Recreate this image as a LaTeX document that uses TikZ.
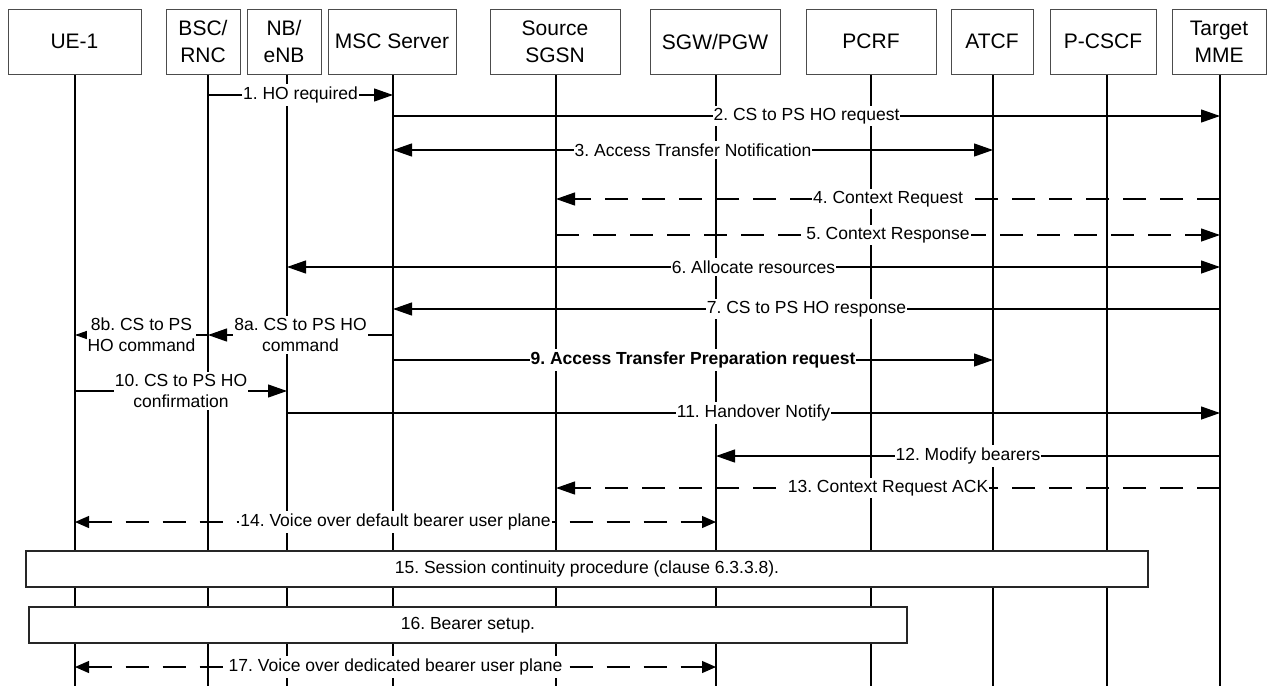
\documentclass[tikz,border=0pt]{standalone}
\usepackage{fontspec}
\setmainfont{Liberation Sans}
\frenchspacing
\usetikzlibrary{arrows.meta}

\begin{document}
\begin{tikzpicture}[x=1pt,y=-1pt,>={Triangle[length=19pt,width=13pt]},
  hdr/.style={draw=\BordColor,line width=1pt,fill=white,align=center,inner sep=0pt,minimum height=65pt,font=\HdrFont},
  vie/.style={line width=1.2pt},
  msg/.style={line width=1.2pt,->},
  msgb/.style={line width=1.2pt,<->},
  msgd/.style={msg,dash pattern=on 23pt off 14pt},
  voix/.style={line width=1.2pt,dash pattern=on 23pt off 14pt,{Triangle[length=14pt,width=12pt]}-{Triangle[length=14pt,width=12pt]}},
  lbl/.style={fill=white,inner xsep=1pt,inner ysep=2.5pt,align=center,font=\LblFont},
  etape/.style={draw=black!85,line width=1.2pt,fill=white,inner sep=0pt,minimum height=36pt,font=\LblFont}]

%polices et couleurs
\def\HdrFont{\fontsize{21}{27}\selectfont}
\def\LblFont{\fontsize{17.5}{21}\selectfont}
\def\BordColor{black!70}

\useasboundingbox (0,0) rectangle (1268,686);

% entités et lignes de vie
\foreach \nom/\xa/\xb/\x/\txt in {%
    ue/8/141/75/{UE-1},bsc/166/240/208/{BSC/\\RNC},nb/247/321/287/{NB/\\eNB},%
    msc/328/456/393/{MSC Server},sgsn/490/620/556/{Source\\SGSN},%
    sgw/650/780/716/{SGW/PGW},pcrf/806/936/871/{PCRF},atcf/951/1033/993/{ATCF},%
    pcscf/1050/1156/1107/{P-CSCF},mme/1172/1266/1220/{Target\\MME}%
}{
    \draw[vie] (\x,74) coordinate (\nom-h) -- (\x,686) coordinate (\nom-b);
    \node[hdr,minimum width={\xb-\xa}] (\nom) at ({(\xa+\xb)/2},41.5) {\txt};
}

% hauteur des messages
\foreach \m/\y in {m1/95,m2/116,m3/150,m4/199,m5/235,m6/267,m7/309,m8/335,%
    m9/360,m10/391,m11/413,m12/456,m13/488,m14/522,m17/667}
    \coordinate (\m) at (0,\y);

% messages
\draw[msg] (bsc-h |- m1) -- node[lbl] (l1) {1. HO required} (msc-h |- m1);
\draw[msg] (msc-h |- m2) -- node[lbl] (l2) {2. CS to PS HO request} (mme-h |- m2);
\draw[msgb] (msc-h |- m3) -- node[lbl] (l3) {3. Access Transfer Notification} (atcf-h |- m3);
\draw[msgd] (mme-h |- m4) -- node[lbl] (l4) {4. Context Request} (sgsn-h |- m4);
\draw[msgd] (sgsn-h |- m5) -- node[lbl] (l5) {5. Context Response} (mme-h |- m5);
\draw[msgb] (nb-h |- m6) -- node[lbl] (l6) {6. Allocate resources} (mme-h |- m6);
\draw[msg] (mme-h |- m7) -- node[lbl] (l7) {7. CS to PS HO response} (msc-h |- m7);
\draw[msg] (msc-h |- m8) -- node[lbl] (l8a) {8a. CS to PS HO\\command} (bsc-h |- m8);
\draw[msg] (bsc-h |- m8) -- node[lbl] (l8b) {8b. CS to PS\\HO command} (ue-h |- m8);
\draw[msg] (msc-h |- m9) -- node[lbl,font=\LblFont\bfseries] (l9) {9. Access Transfer Preparation request} (atcf-h |- m9);
\draw[msg] (ue-h |- m10) -- node[lbl] (l10) {10. CS to PS HO\\confirmation} (nb-h |- m10);
\draw[msg] (nb-h |- m11) -- node[lbl] (l11) {11. Handover Notify} (mme-h |- m11);
\draw[msg] (mme-h |- m12) -- node[lbl] (l12) {12. Modify bearers} (sgw-h |- m12);
\draw[msgd] (mme-h |- m13) -- node[lbl] (l13) {13. Context Request ACK} (sgsn-h |- m13);
\draw[voix] (ue-h |- m14) -- node[lbl] (l14) {14. Voice over default bearer user plane} (sgw-h |- m14);

% procédures
\node[etape,minimum width=1122pt] (s15) at (587,569) {15. Session continuity procedure (clause 6.3.3.8).};
\node[etape,minimum width=878pt] (s16) at (468,625) {16. Bearer setup.};

\draw[voix] (ue-h |- m17) -- node[lbl] (l17) {17. Voice over dedicated bearer user plane} (sgw-h |- m17);

\end{tikzpicture}
\end{document}
